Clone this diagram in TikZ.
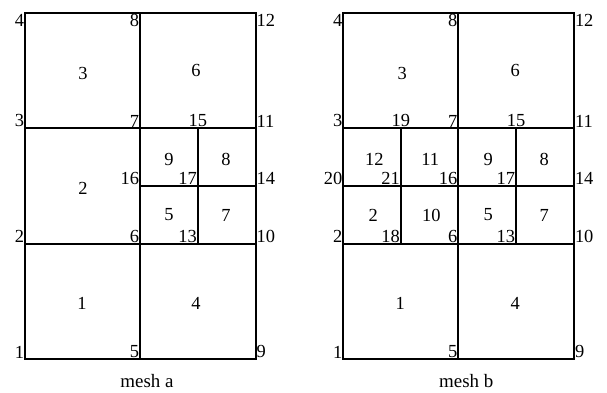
\documentclass[tikz,border=0pt]{standalone}
\usepackage{fontspec}
\setmainfont{Liberation Serif}
\usetikzlibrary{positioning}
\tikzset{
  meshline/.style={line width=2bp,draw=black},
  vnum/.style={inner sep=0.8bp,font=\fontsize{18.5}{18.5}\selectfont},
  cnum/.style={inner sep=0pt,font=\fontsize{18.5}{18.5}\selectfont},
  meshcap/.style={inner sep=0pt,font=\fontsize{19}{20}\selectfont},
}

\begin{document}
\begin{tikzpicture}[x=1bp,y=-1bp]
  \useasboundingbox (0,0) rectangle (607,392);
  % mesh a
  \begin{scope}
    \coordinate (a1) at (25,359);      \coordinate (a2) at (25,243.7);
    \coordinate (a3) at (25,128);      \coordinate (a4) at (25,13.3);
    \coordinate (a5) at (140,359);     \coordinate (a6) at (140,243.7);
    \coordinate (a7) at (140,128);     \coordinate (a8) at (140,13.3);
    \coordinate (a9) at (255.7,359);   \coordinate (a10) at (255.7,243.7);
    \coordinate (a11) at (255.7,128);  \coordinate (a12) at (255.7,13.3);
    \coordinate (a13) at (197.85,243.7);
    \coordinate (a14) at (255.7,185.85);
    \coordinate (a15) at (197.85,128);
    \coordinate (a16) at (140,185.85);
    \coordinate (a17) at (197.85,185.85);
    \draw[meshline] (a1) -- (a9) -- (a12) -- (a4) -- cycle;
    \draw[meshline] (a3) -- (a11);
    \draw[meshline] (a2) -- (a10);
    \draw[meshline] (a5) -- (a8);
    \draw[meshline] (a15) -- (a13);
    \draw[meshline] (a16) -- (a14);
    \node[vnum,anchor=south east] (na1) at (a1) {1};
    \node[vnum,anchor=south east] (na2) at (a2) {2};
    \node[vnum,anchor=south east] (na3) at (a3) {3};
    \node[vnum,anchor=north east] (na4) at (a4) {4};
    \node[vnum,anchor=south east] (na5) at (a5) {5};
    \node[vnum,anchor=south east] (na6) at (a6) {6};
    \node[vnum,anchor=south east] (na7) at (a7) {7};
    \node[vnum,anchor=north east] (na8) at (a8) {8};
    \node[vnum,anchor=south west] (na9) at (a9) {9};
    \node[vnum,anchor=south west] (na10) at (a10) {10};
    \node[vnum,anchor=south west] (na11) at (a11) {11};
    \node[vnum,anchor=north west] (na12) at (a12) {12};
    \node[vnum,anchor=south east] (na13) at (a13) {13};
    \node[vnum,anchor=south west] (na14) at (a14) {14};
    \node[vnum,anchor=south] (na15) at (a15) {15};
    \node[vnum,anchor=south east] (na16) at (a16) {16};
    \node[vnum,anchor=south east] (na17) at (a17) {17};
    \node[cnum] (ea1) at (82,303) {1};
    \node[cnum] (ea2) at (83,188) {2};
    \node[cnum] (ea3) at (83,73) {3};
    \node[cnum] (ea4) at (196,303) {4};
    \node[cnum] (ea5) at (169,215) {5};
    \node[cnum] (ea6) at (196,70) {6};
    \node[cnum] (ea7) at (226,215) {7};
    \node[cnum] (ea8) at (226,159) {8};
    \node[cnum] (ea9) at (169,159) {9};
    \node[meshcap] (capa) at (147,381) {mesh a};
  \end{scope}
  % mesh b
  \begin{scope}[xshift=318.3bp]
    \coordinate (b1) at (25,359);      \coordinate (b2) at (25,243.7);
    \coordinate (b3) at (25,128);      \coordinate (b4) at (25,13.3);
    \coordinate (b5) at (140,359);     \coordinate (b6) at (140,243.7);
    \coordinate (b7) at (140,128);     \coordinate (b8) at (140,13.3);
    \coordinate (b9) at (255.7,359);   \coordinate (b10) at (255.7,243.7);
    \coordinate (b11) at (255.7,128);  \coordinate (b12) at (255.7,13.3);
    \coordinate (b13) at (197.85,243.7);
    \coordinate (b14) at (255.7,185.85);
    \coordinate (b15) at (197.85,128);
    \coordinate (b16) at (140,185.85);
    \coordinate (b17) at (197.85,185.85);
    \coordinate (b18) at (82.5,243.7);
    \coordinate (b19) at (82.5,128);
    \coordinate (b20) at (25,185.85);
    \coordinate (b21) at (82.5,185.85);
    \draw[meshline] (b1) -- (b9) -- (b12) -- (b4) -- cycle;
    \draw[meshline] (b3) -- (b11);
    \draw[meshline] (b2) -- (b10);
    \draw[meshline] (b5) -- (b8);
    \draw[meshline] (b15) -- (b13);
    \draw[meshline] (b19) -- (b18);
    \draw[meshline] (b20) -- (b14);
    \node[vnum,anchor=south east] (nb1) at (b1) {1};
    \node[vnum,anchor=south east] (nb2) at (b2) {2};
    \node[vnum,anchor=south east] (nb3) at (b3) {3};
    \node[vnum,anchor=north east] (nb4) at (b4) {4};
    \node[vnum,anchor=south east] (nb5) at (b5) {5};
    \node[vnum,anchor=south east] (nb6) at (b6) {6};
    \node[vnum,anchor=south east] (nb7) at (b7) {7};
    \node[vnum,anchor=north east] (nb8) at (b8) {8};
    \node[vnum,anchor=south west] (nb9) at (b9) {9};
    \node[vnum,anchor=south west] (nb10) at (b10) {10};
    \node[vnum,anchor=south west] (nb11) at (b11) {11};
    \node[vnum,anchor=north west] (nb12) at (b12) {12};
    \node[vnum,anchor=south east] (nb13) at (b13) {13};
    \node[vnum,anchor=south west] (nb14) at (b14) {14};
    \node[vnum,anchor=south] (nb15) at (b15) {15};
    \node[vnum,anchor=south east] (nb16) at (b16) {16};
    \node[vnum,anchor=south east] (nb17) at (b17) {17};
    \node[vnum,anchor=south east] (nb18) at (b18) {18};
    \node[vnum,anchor=south] (nb19) at (b19) {19};
    \node[vnum,anchor=south east] (nb20) at (b20) {20};
    \node[vnum,anchor=south east] (nb21) at (b21) {21};
    \node[cnum] (eb1) at (82,303) {1};
    \node[cnum] (eb2) at (55,215) {2};
    \node[cnum] (eb3) at (84,73) {3};
    \node[cnum] (eb4) at (197,303) {4};
    \node[cnum] (eb5) at (170,215) {5};
    \node[cnum] (eb6) at (197,70) {6};
    \node[cnum] (eb7) at (226,215) {7};
    \node[cnum] (eb8) at (226,159) {8};
    \node[cnum] (eb9) at (170,159) {9};
    \node[cnum] (eb10) at (113,215) {10};
    \node[cnum] (eb11) at (112,159) {11};
    \node[cnum] (eb12) at (56,159) {12};
    \node[meshcap] (capb) at (148,381) {mesh b};
  \end{scope}
\end{tikzpicture}
\end{document}
